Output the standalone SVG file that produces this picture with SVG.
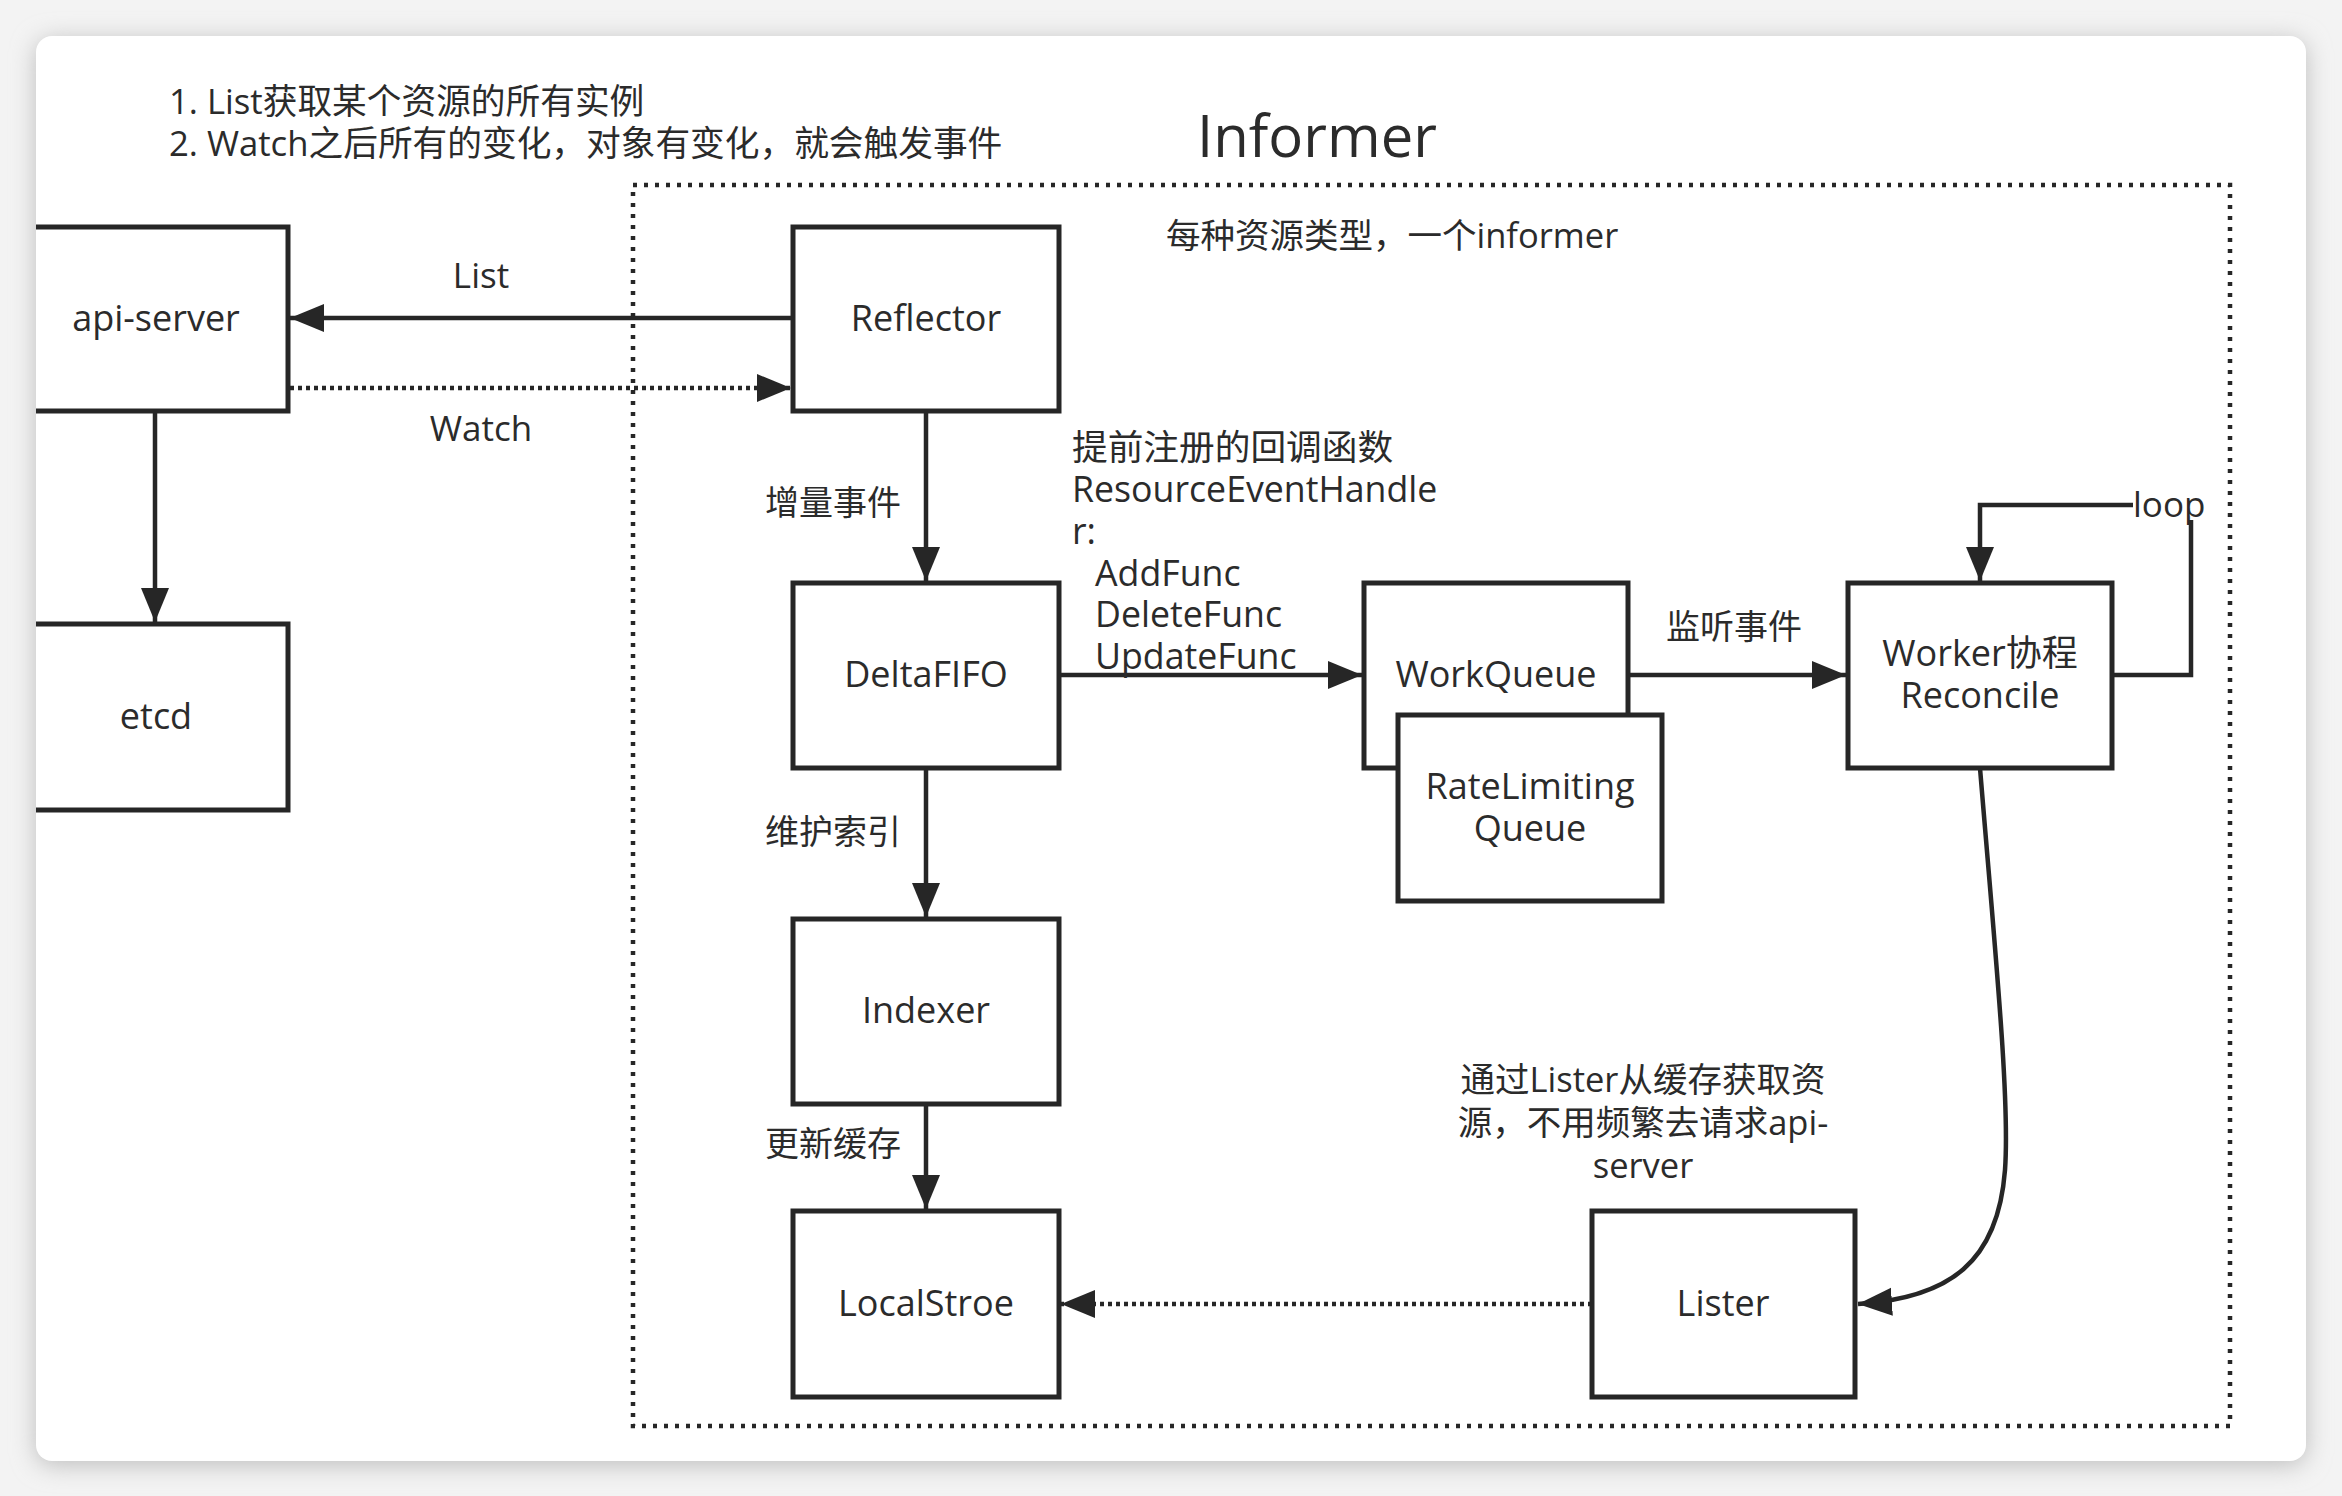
<svg xmlns="http://www.w3.org/2000/svg" width="2342" height="1496" viewBox="0 0 2342 1496">
<defs>
<style>
.box{fill:#fff;stroke:#262626;stroke-width:5}
.ln{fill:none;stroke:#262626;stroke-width:4.5}
.dot{fill:none;stroke:#262626;stroke-width:4.5;stroke-dasharray:4 4}
.t{font-family:"Open Sans","Noto Sans CJK SC",sans-serif;fill:#2b2b2b}
.c{text-anchor:middle}
</style>
<marker id="ah" markerUnits="userSpaceOnUse" markerWidth="36" markerHeight="30" refX="34" refY="15" orient="auto">
<path d="M0,1 L34,15 L0,29 Z" fill="#262626"/>
</marker>
<filter id="sh" x="-5%" y="-5%" width="110%" height="110%">
<feGaussianBlur stdDeviation="12"/>
</filter>
<clipPath id="card"><rect x="36" y="36" width="2270" height="1425" rx="16"/></clipPath>
</defs>
<rect width="2342" height="1496" fill="#f3f3f3"/>
<rect x="36" y="40" width="2270" height="1425" rx="16" fill="#bdbdbd" filter="url(#sh)"/>
<rect x="36" y="36" width="2270" height="1425" rx="16" fill="#fff"/>

<g id="notes" class="t" font-size="34.7">
<text x="169" y="114">1. List获取某个资源的所有实例</text>
<text x="169" y="156">2. Watch之后所有的变化，对象有变化，就会触发事件</text>
</g>
<text id="title" class="t c" x="1317" y="157" font-size="58">Informer</text>

<g id="informer">
<rect x="633" y="185" width="1597" height="1241" fill="none" stroke="#262626" stroke-width="4.5" stroke-dasharray="4 7"/>
<text class="t" x="1166" y="248" font-size="34.5">每种资源类型，一个informer</text>
</g>

<g id="connectors">
<line class="ln" x1="793" y1="318" x2="290" y2="318" marker-end="url(#ah)"/>
<line class="dot" x1="290" y1="388" x2="791" y2="388" marker-end="url(#ah)"/>
<line class="ln" x1="155" y1="411" x2="155" y2="622" marker-end="url(#ah)"/>
<line class="ln" x1="926" y1="411" x2="926" y2="581" marker-end="url(#ah)"/>
<line class="ln" x1="926" y1="768" x2="926" y2="917" marker-end="url(#ah)"/>
<line class="ln" x1="926" y1="1104" x2="926" y2="1209" marker-end="url(#ah)"/>
<line class="ln" x1="1059" y1="675" x2="1362" y2="675" marker-end="url(#ah)"/>
<line class="ln" x1="1628" y1="675" x2="1846" y2="675" marker-end="url(#ah)"/>
<path class="ln" d="M2112,675 H2191 V520"/>
<path class="ln" d="M2133,505 H1980 V581" marker-end="url(#ah)"/>
<path class="ln" d="M1980,768 C1995,950 2010,1100 2005,1170 C1998,1262 1950,1298 1858,1304" marker-end="url(#ah)"/>
<line class="dot" x1="1592" y1="1304" x2="1061" y2="1304" marker-end="url(#ah)"/>
<text class="t c" x="481" y="288" font-size="35">List</text>
<text class="t c" x="481" y="441" font-size="35">Watch</text>
<text class="t c" x="833" y="515" font-size="34">增量事件</text>
<text class="t c" x="833" y="844" font-size="34">维护索引</text>
<text class="t c" x="833" y="1156" font-size="34">更新缓存</text>
<text class="t c" x="1734" y="639" font-size="34">监听事件</text>
<text class="t" x="2133" y="517" font-size="35">loop</text>
<g class="t" font-size="35.7">
<text x="1072" y="460">提前注册的回调函数</text>
<text x="1072" y="502">ResourceEventHandle</text>
<text x="1072" y="544">r:</text>
<text x="1095" y="586">AddFunc</text>
<text x="1095" y="627">DeleteFunc</text>
<text x="1095" y="669">UpdateFunc</text>
</g>
<g class="t c" font-size="34.5">
<text x="1643" y="1092">通过Lister从缓存获取资</text>
<text x="1643" y="1135">源，不用频繁去请求api-</text>
<text x="1643" y="1178">server</text>
</g>
</g>

<g clip-path="url(#card)" class="t c" font-size="36">
<g id="api-server"><rect class="box" x="10" y="227" width="278" height="184"/><text x="156" y="331">api-server</text></g>
<g id="etcd"><rect class="box" x="10" y="624" width="278" height="186"/><text x="156" y="729">etcd</text></g>
</g>
<g class="t c" font-size="36">
<g id="reflector"><rect class="box" x="793" y="227" width="266" height="184"/><text x="926" y="331">Reflector</text></g>
<g id="deltafifo"><rect class="box" x="793" y="583" width="266" height="185"/><text x="926" y="687">DeltaFIFO</text></g>
<g id="indexer"><rect class="box" x="793" y="919" width="266" height="185"/><text x="926" y="1023">Indexer</text></g>
<g id="localstroe"><rect class="box" x="793" y="1211" width="266" height="186"/><text x="926" y="1316">LocalStroe</text></g>
<g id="workqueue"><rect class="box" x="1364" y="583" width="264" height="185"/><text x="1496" y="687">WorkQueue</text></g>
<g id="ratelimiting"><rect class="box" x="1398" y="715" width="264" height="186"/><text x="1530" y="799">RateLimiting</text><text x="1530" y="841">Queue</text></g>
<g id="worker"><rect class="box" x="1848" y="583" width="264" height="185"/><text x="1980" y="666">Worker协程</text><text x="1980" y="708">Reconcile</text></g>
<g id="lister"><rect class="box" x="1592" y="1211" width="263" height="186"/><text x="1723" y="1316">Lister</text></g>
</g>
</svg>
